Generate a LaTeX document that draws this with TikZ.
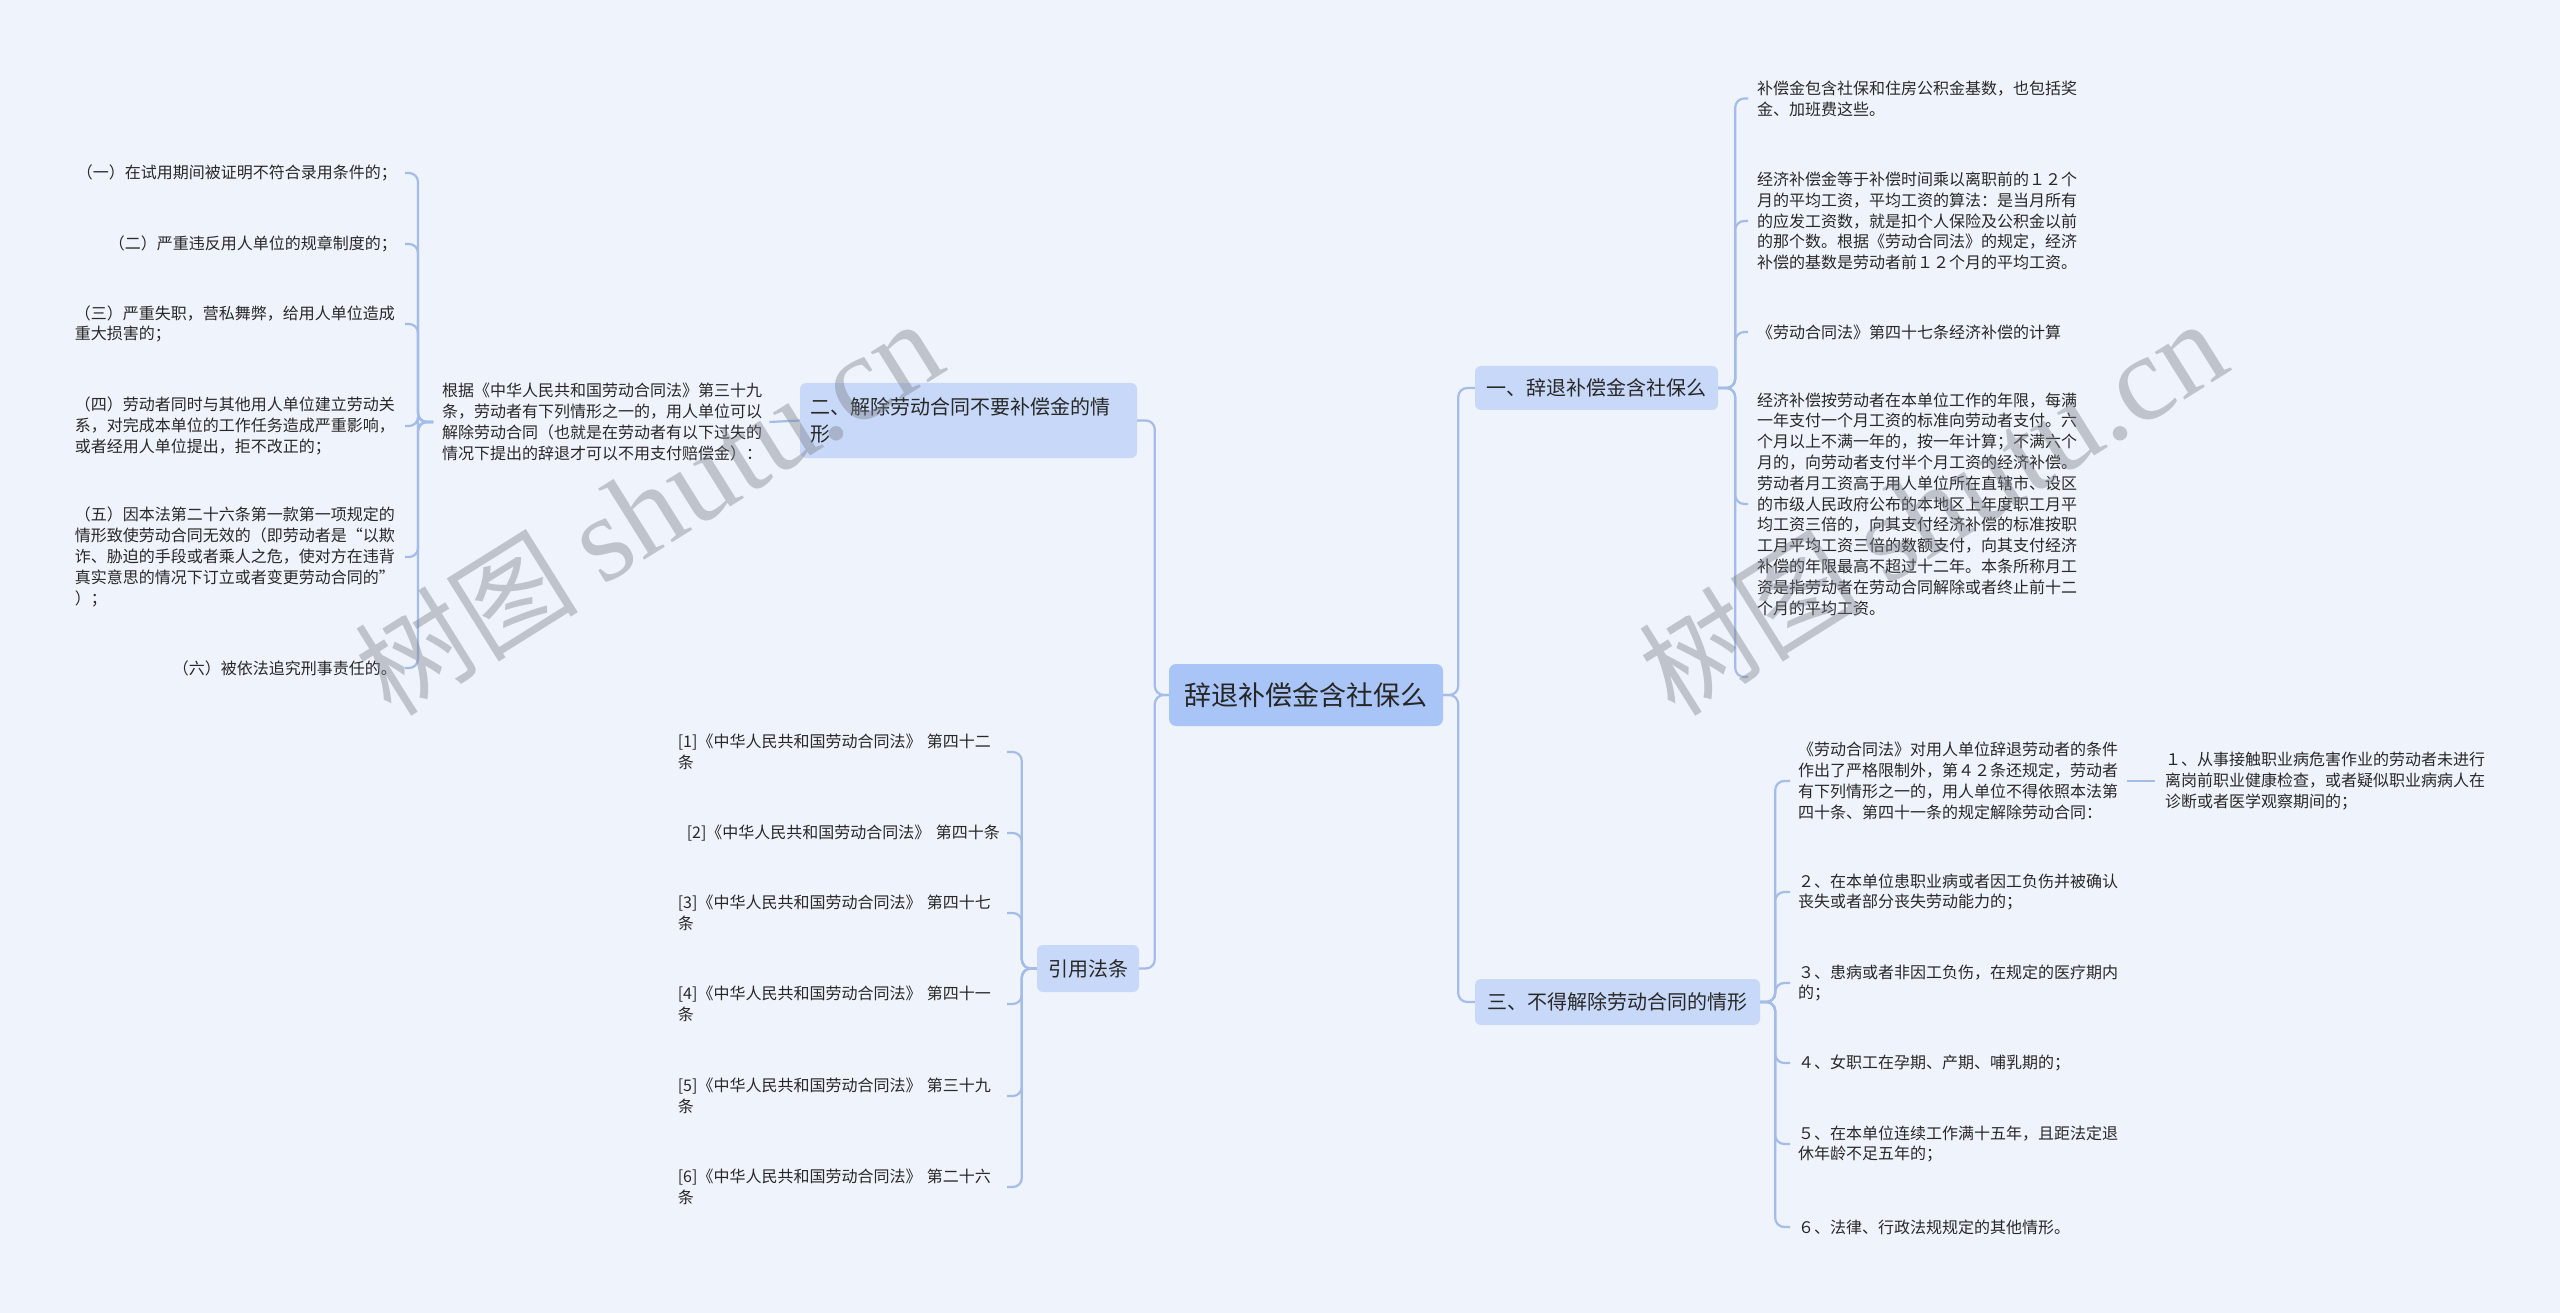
\documentclass[tikz,border=0pt]{standalone}
\usepackage{fontspec}
\setmainfont{Noto Sans CJK SC}
\newfontfamily\wmlatin{Liberation Serif}
\definecolor{bgc}{RGB}{239,243,251}
\definecolor{centerc}{RGB}{169,196,247}
\definecolor{branchc}{RGB}{200,216,248}
\definecolor{linec}{RGB}{163,189,232}
\definecolor{textc}{RGB}{40,40,40}
\definecolor{wmc}{RGB}{120,124,134}
\begin{document}
\begin{tikzpicture}[x=1pt,y=-1pt,
  every node/.style={text=textc},
  txt/.style={inner sep=0pt, font=\fontsize{16}{20.8}\selectfont, text width=322pt, align=left},
  txtr/.style={txt, align=right},
  conn/.style={draw=linec, line width=2.2pt, rounded corners=9pt},
  mainbox/.style={fill=centerc, rounded corners=7pt, inner sep=0pt, minimum width=274pt, minimum height=62pt, font=\fontsize{27}{32}\selectfont, text=black!85},
  subbox/.style={fill=branchc, rounded corners=6pt, inner sep=0pt, font=\fontsize{20}{27}\selectfont},
  wmark/.style={rotate=32, text=wmc, text opacity=0.4, inner sep=0pt, font=\fontsize{112}{112}\selectfont}
]
\useasboundingbox (0,0) rectangle (2560,1313);
\fill[bgc] (0,0) rectangle (2560,1313);

% main and branch nodes
\node[mainbox] (C) at (1306,695) {辞退补偿金含社保么};
\node[subbox, minimum width=243pt, minimum height=44pt] (B1) at (1596.5,388) {一、辞退补偿金含社保么};
\node[subbox, minimum width=285pt, minimum height=46pt] (B3) at (1617.5,1002) {三、不得解除劳动合同的情形};
\node[subbox, minimum height=75pt, text width=317pt, align=left, inner xsep=10pt] (B2) at (968.5,420.5) {二、解除劳动合同不要补偿金的情\\形};
\node[subbox, minimum width=102pt, minimum height=47pt] (B4) at (1088,968.5) {引用法条};

% right branch 1 children
\node[txt, anchor=west] (R1a) at (1757,98.5) {补偿金包含社保和住房公积金基数，也包括奖\\金、加班费这些。};
\node[txt, anchor=west] (R1b) at (1757,221) {经济补偿金等于补偿时间乘以离职前的１２个\\月的平均工资，平均工资的算法：是当月所有\\的应发工资数，就是扣个人保险及公积金以前\\的那个数。根据《劳动合同法》的规定，经济\\补偿的基数是劳动者前１２个月的平均工资。};
\node[txt, anchor=west] (R1c) at (1757,332) {《劳动合同法》第四十七条经济补偿的计算};
\node[txt, anchor=west] (R1d) at (1757,504) {经济补偿按劳动者在本单位工作的年限，每满\\一年支付一个月工资的标准向劳动者支付。六\\个月以上不满一年的，按一年计算；不满六个\\月的，向劳动者支付半个月工资的经济补偿。\\劳动者月工资高于用人单位所在直辖市、设区\\的市级人民政府公布的本地区上年度职工月平\\均工资三倍的，向其支付经济补偿的标准按职\\工月平均工资三倍的数额支付，向其支付经济\\补偿的年限最高不超过十二年。本条所称月工\\资是指劳动者在劳动合同解除或者终止前十二\\个月的平均工资。};
\coordinate (R1e) at (1748,677);

% right branch 3 children
\node[txt, anchor=west] (R3a) at (1798,781) {《劳动合同法》对用人单位辞退劳动者的条件\\作出了严格限制外，第４２条还规定，劳动者\\有下列情形之一的，用人单位不得依照本法第\\四十条、第四十一条的规定解除劳动合同：};
\node[txt, anchor=west] (R3a1) at (2165,781) {１、从事接触职业病危害作业的劳动者未进行\\离岗前职业健康检查，或者疑似职业病病人在\\诊断或者医学观察期间的；};
\node[txt, anchor=west] (R3b) at (1798,892) {２、在本单位患职业病或者因工负伤并被确认\\丧失或者部分丧失劳动能力的；};
\node[txt, anchor=west] (R3c) at (1798,983) {３、患病或者非因工负伤，在规定的医疗期内\\的；};
\node[txt, anchor=west] (R3d) at (1798,1063) {４、女职工在孕期、产期、哺乳期的；};
\node[txt, anchor=west] (R3e) at (1798,1144) {５、在本单位连续工作满十五年，且距法定退\\休年龄不足五年的；};
\node[txt, anchor=west] (R3f) at (1798,1227) {６、法律、行政法规规定的其他情形。};

% left branch 2 children
\node[txt, anchor=west] (L0) at (442,422) {根据《中华人民共和国劳动合同法》第三十九\\条，劳动者有下列情形之一的，用人单位可以\\解除劳动合同（也就是在劳动者有以下过失的\\情况下提出的辞退才可以不用支付赔偿金）：};
\node[txtr, anchor=east] (L1) at (397,173) {（一）在试用期间被证明不符合录用条件的；};
\node[txtr, anchor=east] (L2) at (397,244) {（二）严重违反用人单位的规章制度的；};
\node[txt, anchor=east] (L3) at (397,324) {（三）严重失职，营私舞弊，给用人单位造成\\重大损害的；};
\node[txt, anchor=east] (L4) at (397,426) {（四）劳动者同时与其他用人单位建立劳动关\\系，对完成本单位的工作任务造成严重影响，\\或者经用人单位提出，拒不改正的；};
\node[txt, anchor=east] (L5) at (397,557) {（五）因本法第二十六条第一款第一项规定的\\情形致使劳动合同无效的（即劳动者是“以欺\\诈、胁迫的手段或者乘人之危，使对方在违背\\真实意思的情况下订立或者变更劳动合同的”\\）；};
\node[txtr, anchor=east] (L6) at (397,668) {（六）被依法追究刑事责任的。};

% citation children
\node[txt, anchor=east] (C1) at (1000,752) {[1]《中华人民共和国劳动合同法》 第四十二\\条};
\node[txtr, anchor=east] (C2) at (1000,833) {[2]《中华人民共和国劳动合同法》 第四十条};
\node[txt, anchor=east] (C3) at (1000,913) {[3]《中华人民共和国劳动合同法》 第四十七\\条};
\node[txt, anchor=east] (C4) at (1000,1004) {[4]《中华人民共和国劳动合同法》 第四十一\\条};
\node[txt, anchor=east] (C5) at (1000,1096) {[5]《中华人民共和国劳动合同法》 第三十九\\条};
\node[txt, anchor=east] (C6) at (1000,1187) {[6]《中华人民共和国劳动合同法》 第二十六\\条};

% connectors
\draw[conn] (C.east) -- ++(15,0) |- (B1.west);
\draw[conn] (C.east) -- ++(15,0) |- (B3.west);
\draw[conn] (C.west) -- ++(-14,0) |- (B2.east);
\draw[conn] (C.west) -- ++(-14,0) |- (B4.east);
\foreach \n in {R1a,R1b,R1c,R1d}
  \draw[conn] (B1.east) -- ++(17,0) |- ([xshift=-9pt]\n.west);
\draw[conn] (B1.east) -- ++(17,0) |- (R1e);
\foreach \n in {R3a,R3b,R3c,R3d,R3e,R3f}
  \draw[conn] (B3.east) -- ++(15,0) |- ([xshift=-8pt]\n.west);
\draw[conn] ([xshift=7pt]R3a.east) -- ([xshift=-10pt]R3a1.west);
\draw[conn] (B2.west) -- ([xshift=5pt]L0.east);
\foreach \n in {L1,L2,L3,L4,L5,L6}
  \draw[conn] ([xshift=-9pt]L0.west) -- ++(-15,0) |- ([xshift=8pt]\n.east);
\foreach \n in {C1,C2,C3,C4,C5,C6}
  \draw[conn] (B4.west) -- ++(-15,0) |- ([xshift=7pt]\n.east);

% watermarks
\node[wmark] (W1) at (648,508) {树图 {\wmlatin\fontsize{122}{122}\selectfont shutu.cn}};
\node[wmark] (W2) at (1932,508) {树图 {\wmlatin\fontsize{122}{122}\selectfont shutu.cn}};
\end{tikzpicture}
\end{document}
